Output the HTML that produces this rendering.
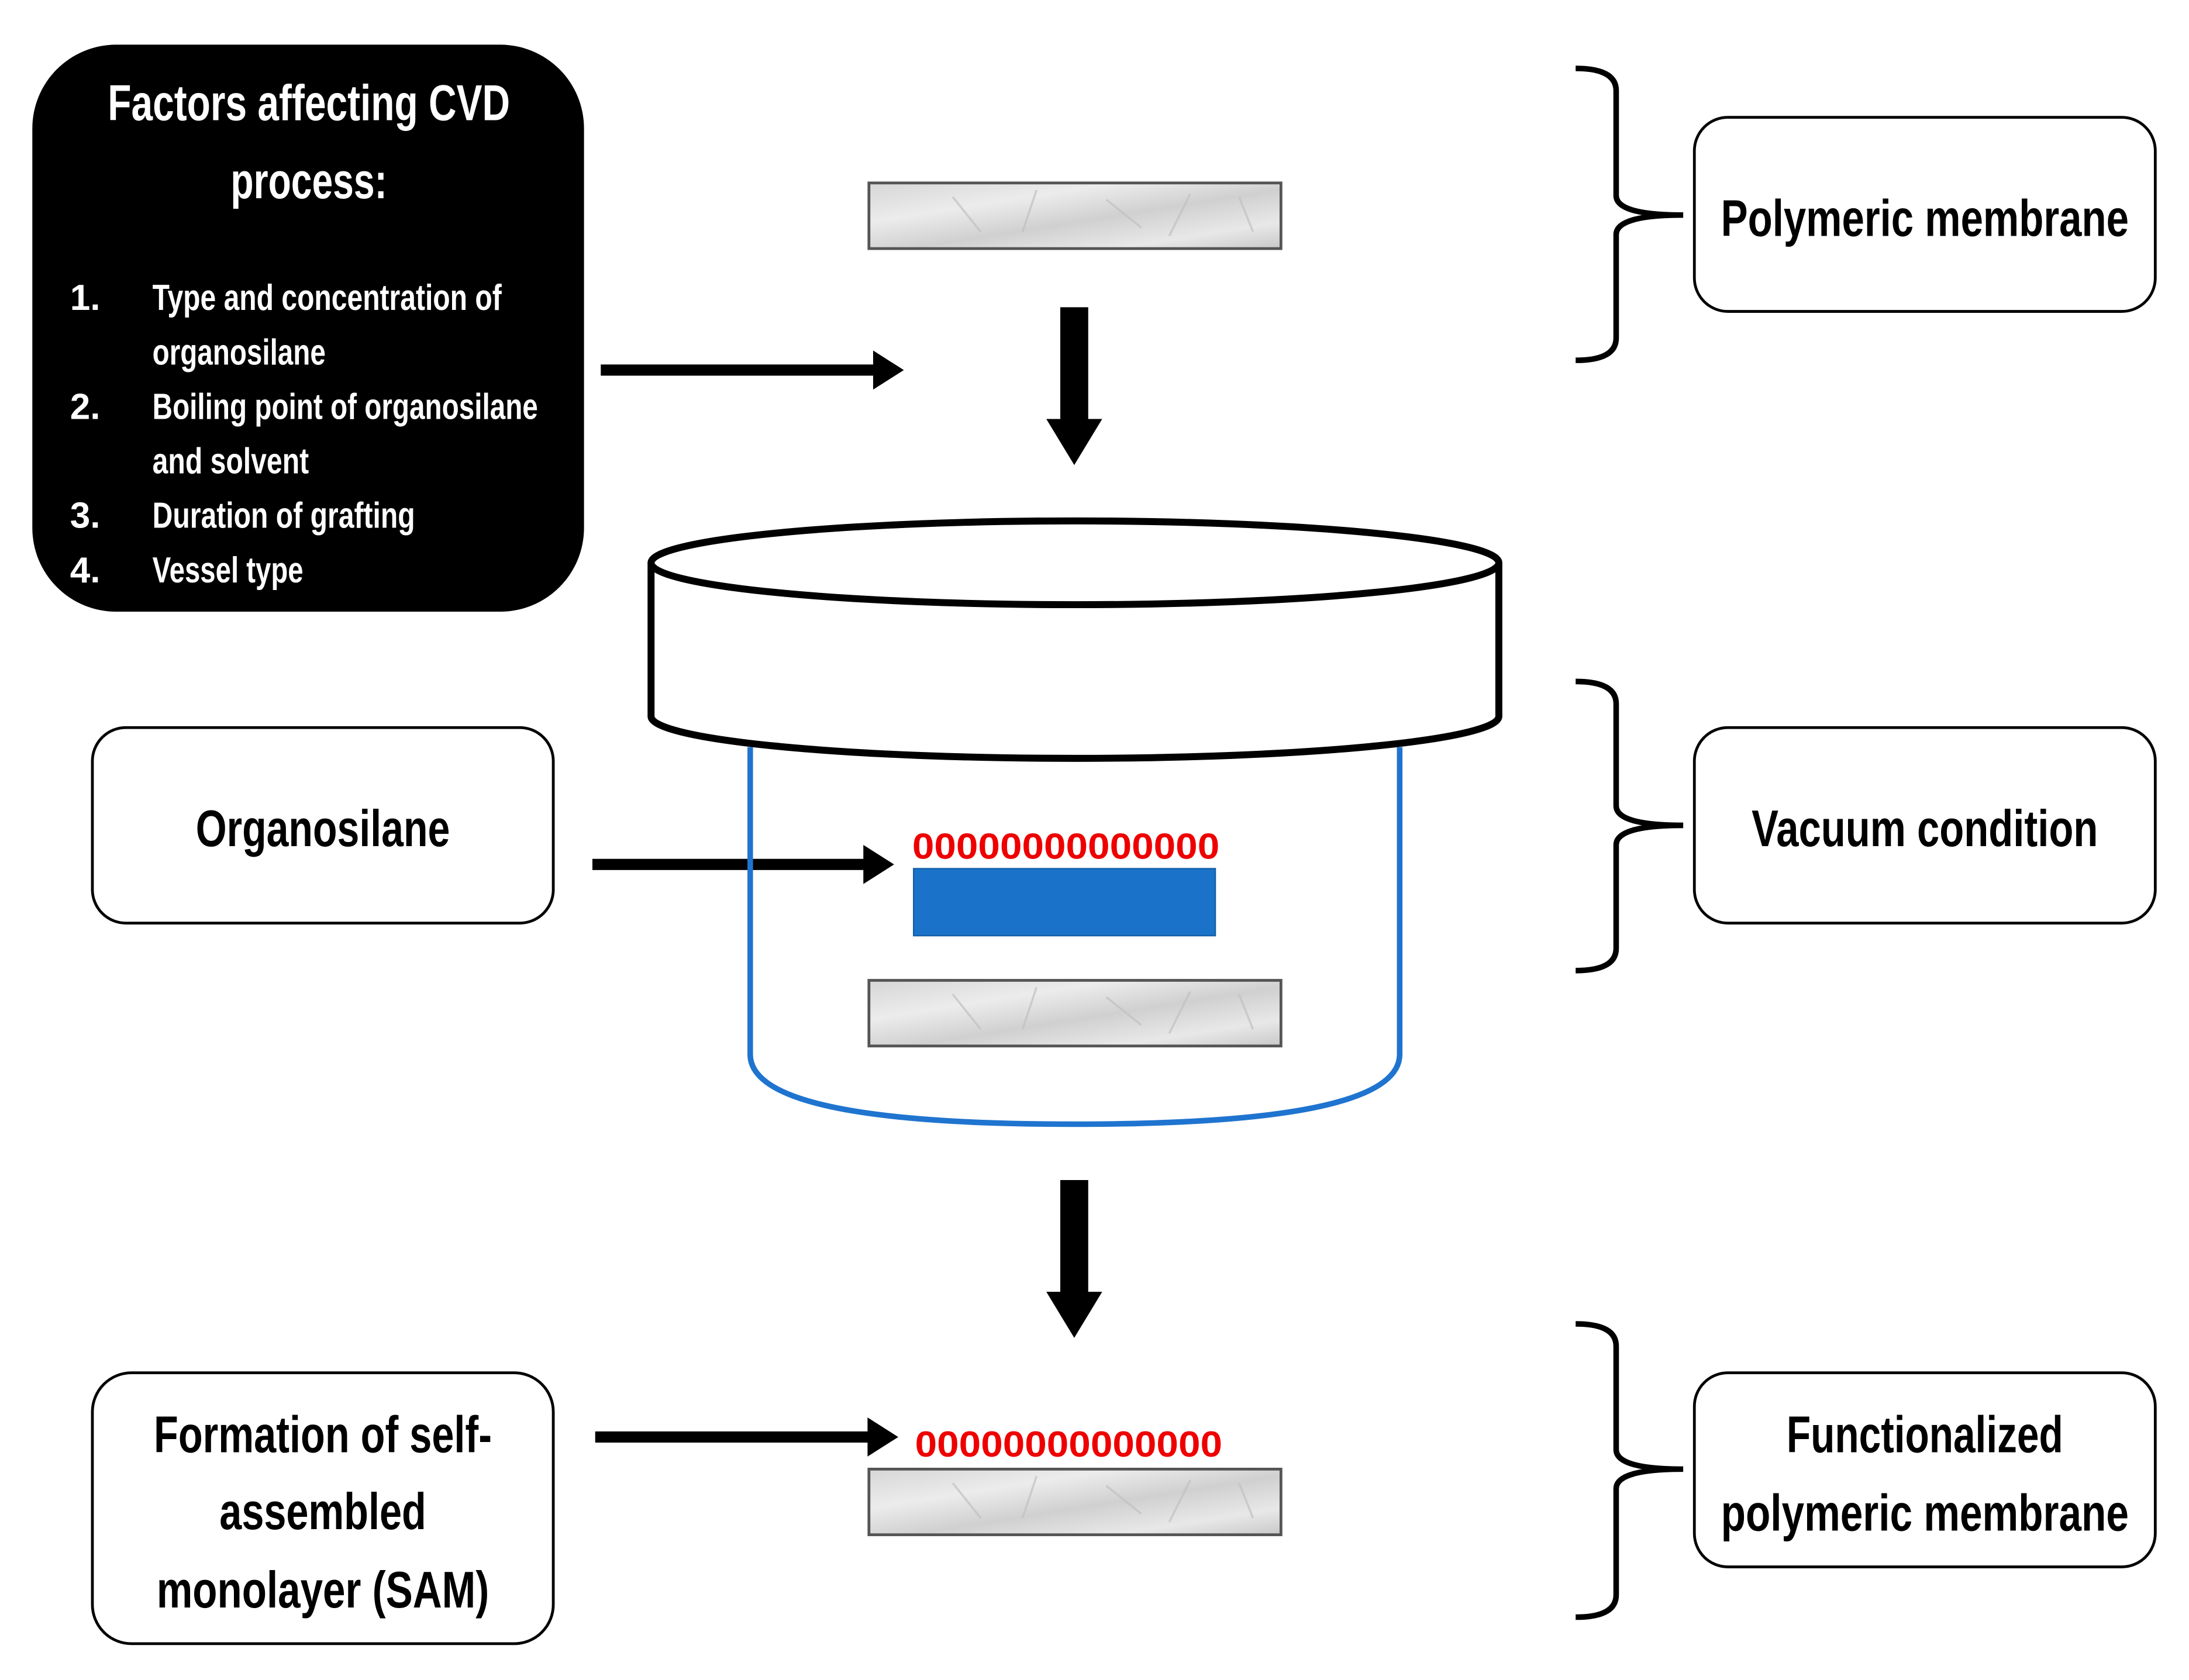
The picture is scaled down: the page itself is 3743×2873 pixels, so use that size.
<!DOCTYPE html>
<html><head><meta charset="utf-8"><style>
html,body{margin:0;padding:0;background:#fff;}
svg{display:block;}
text{font-family:"Liberation Sans",sans-serif;font-weight:bold;}
</style></head><body>
<svg width="3743" height="2873" viewBox="0 0 1567 1203" xmlns="http://www.w3.org/2000/svg">
<defs>
<linearGradient id="mem" x1="0" y1="0" x2="1" y2="1">
<stop offset="0" stop-color="#d6d6d6"/><stop offset="0.3" stop-color="#ececec"/><stop offset="0.55" stop-color="#d0d0d0"/><stop offset="0.8" stop-color="#e8e8e8"/><stop offset="1" stop-color="#c8c8c8"/>
</linearGradient>
<g id="membrane">
<rect x="0" y="0" width="295" height="47" fill="url(#mem)" stroke="#555" stroke-width="2"/>
<path d="M60 10 l20 25 M120 5 l-10 30 M170 12 l25 20 M230 8 l-15 30 M265 10 l10 25" stroke="#c0c0c0" stroke-width="1.5" fill="none" opacity="0.7"/>
</g>
</defs>
<rect width="1567" height="1203" fill="#fff"/>

<rect x="23" y="32" width="395" height="406" rx="60" fill="#000"/>
<g fill="#fff">
<text x="221" y="86" font-size="36" text-anchor="middle" textLength="288" lengthAdjust="spacingAndGlyphs">Factors affecting CVD</text>
<text x="221" y="142" font-size="36" text-anchor="middle" textLength="112" lengthAdjust="spacingAndGlyphs">process:</text>
<g font-size="26">
<text x="50" y="222">1.</text><text x="109" y="222" textLength="250" lengthAdjust="spacingAndGlyphs">Type and concentration of</text>
<text x="109" y="261" textLength="124" lengthAdjust="spacingAndGlyphs">organosilane</text>
<text x="50" y="300">2.</text><text x="109" y="300" textLength="276" lengthAdjust="spacingAndGlyphs">Boiling point of organosilane</text>
<text x="109" y="339" textLength="112" lengthAdjust="spacingAndGlyphs">and solvent</text>
<text x="50" y="378">3.</text><text x="109" y="378" textLength="188" lengthAdjust="spacingAndGlyphs">Duration of grafting</text>
<text x="50" y="417">4.</text><text x="109" y="417" textLength="108" lengthAdjust="spacingAndGlyphs">Vessel type</text>
</g></g>

<g fill="#000">
<rect x="430" y="261" width="198" height="8"/><polygon points="625,251 647,265 625,279"/>
<rect x="424" y="615" width="196" height="8"/><polygon points="618,605 640,619 618,633"/>
<rect x="426" y="1025" width="198" height="8"/><polygon points="621,1015 643,1029 621,1043"/>
<rect x="759" y="220" width="20" height="82"/><polygon points="749,300 789,300 769,333"/>
<rect x="759" y="845" width="20" height="82"/><polygon points="749,925 789,925 769,958"/>
</g>

<use href="#membrane" x="622" y="131"/>
<use href="#membrane" x="622" y="702"/>
<use href="#membrane" x="622" y="1052"/>

<path d="M537 535 V755 Q537 805 769 805 Q1002 805 1002 755 V535" fill="none" stroke="#1f74cf" stroke-width="4"/>
<path d="M466 403 V513 A303 30 0 0 0 1073 513 V403" fill="#fff" stroke="#000" stroke-width="5"/>
<ellipse cx="769.5" cy="403" rx="303.5" ry="30" fill="#fff" stroke="#000" stroke-width="5"/>

<text x="763" y="615" font-size="26" fill="#e00" text-anchor="middle" textLength="220" lengthAdjust="spacingAndGlyphs">00000000000000</text>
<rect x="654" y="622" width="216" height="48" fill="#1a73c9" stroke="#1560a8" stroke-width="1"/>
<text x="765" y="1043" font-size="26" fill="#e00" text-anchor="middle" textLength="220" lengthAdjust="spacingAndGlyphs">00000000000000</text>

<g fill="#fff" stroke="#000" stroke-width="2">
<rect x="66" y="521" width="330" height="140" rx="24"/>
<rect x="66" y="983" width="330" height="194" rx="28"/>
<rect x="1213" y="84" width="330" height="139" rx="24"/>
<rect x="1213" y="521" width="330" height="140" rx="24"/>
<rect x="1213" y="983" width="330" height="139" rx="24"/>
</g>
<g font-size="37" fill="#000" text-anchor="middle">
<text x="231" y="606" textLength="182" lengthAdjust="spacingAndGlyphs">Organosilane</text>
<text x="231" y="1040" textLength="242" lengthAdjust="spacingAndGlyphs">Formation of self-</text>
<text x="231" y="1095" textLength="148" lengthAdjust="spacingAndGlyphs">assembled</text>
<text x="231" y="1151" textLength="238" lengthAdjust="spacingAndGlyphs">monolayer (SAM)</text>
<text x="1378" y="169" textLength="292" lengthAdjust="spacingAndGlyphs">Polymeric membrane</text>
<text x="1378" y="606" textLength="248" lengthAdjust="spacingAndGlyphs">Vacuum condition</text>
<text x="1378" y="1040" textLength="198" lengthAdjust="spacingAndGlyphs">Functionalized</text>
<text x="1378" y="1096" textLength="292" lengthAdjust="spacingAndGlyphs">polymeric membrane</text>
</g>

<g fill="none" stroke="#000" stroke-width="4">
<path d="M1128 49 Q1157 49 1157 65 V140 Q1157 154 1205 154 Q1157 154 1157 168 V242 Q1157 258 1128 258"/>
<path d="M1128 488 Q1157 488 1157 504 V577 Q1157 591 1205 591 Q1157 591 1157 605 V679 Q1157 695 1128 695"/>
<path d="M1128 948 Q1157 948 1157 964 V1038 Q1157 1052 1205 1052 Q1157 1052 1157 1066 V1142 Q1157 1158 1128 1158"/>
</g>
</svg>
</body></html>
